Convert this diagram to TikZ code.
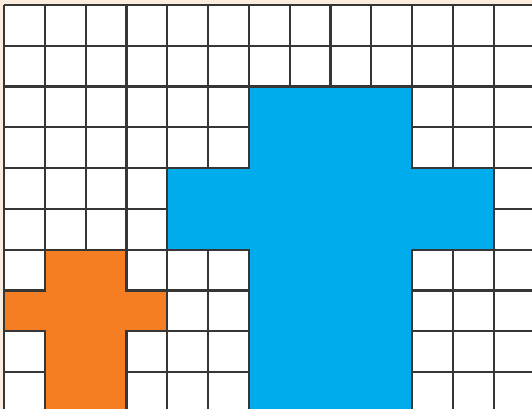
\documentclass[tikz,border=0pt]{standalone}
\usepackage{xcolor}
\definecolor{GridPeach}{HTML}{FDEDDF}
\definecolor{GridInk}{HTML}{363636}
\definecolor{CrossBlue}{HTML}{00ACEC}
\definecolor{CrossOrange}{HTML}{F47E21}

\begin{document}
\begin{tikzpicture}[
    x=1cm,y=-1cm,
    gridline/.style={draw=GridInk,line width=1.5pt},
    crossbox/.style={draw=GridInk,line width=1.5pt,line join=miter}
  ]
    % paper and visible window
    \fill[GridPeach] (-0.1,-0.12) rectangle (12.94,9.9);
    \useasboundingbox (-0.1,-0.12) rectangle (12.94,9.9);
    \clip (-0.1,-0.12) rectangle (12.94,9.9);
    \fill[white] (0,0) rectangle (13.5,10.5);
    \draw[gridline] (0,0) grid (13.5,10.5);
    % big blue cross
    \filldraw[crossbox,fill=CrossBlue] (6,2) -- (10,2) -- (10,4) -- (12,4) -- (12,6)
      -- (10,6) -- (10,10.5) -- (6,10.5) -- (6,6) -- (4,6) -- (4,4) -- (6,4) -- cycle;
    % small orange cross
    \filldraw[crossbox,fill=CrossOrange] (1,6) -- (3,6) -- (3,7) -- (4,7) -- (4,8)
      -- (3,8) -- (3,10.5) -- (1,10.5) -- (1,8) -- (0,8) -- (0,7) -- (1,7) -- cycle;
\end{tikzpicture}
\end{document}
